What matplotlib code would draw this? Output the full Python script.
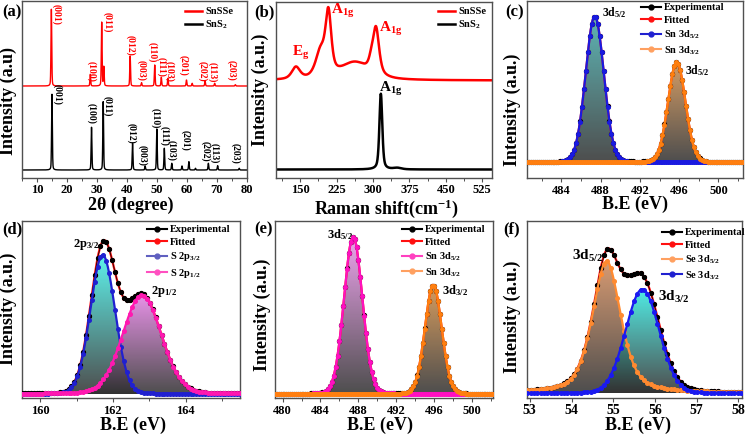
import numpy as np
import matplotlib
matplotlib.use('Agg')
import matplotlib.pyplot as plt
from matplotlib.colors import LinearSegmentedColormap
from matplotlib.ticker import MultipleLocator
from matplotlib.lines import Line2D

plt.rcParams['font.family'] = 'Liberation Serif'
plt.rcParams['font.weight'] = 'bold'
plt.rcParams['mathtext.fontset'] = 'custom'
plt.rcParams['mathtext.rm'] = 'Liberation Serif:bold'
plt.rcParams['mathtext.it'] = 'Liberation Serif:bold'
plt.rcParams['mathtext.bf'] = 'Liberation Serif:bold'

# ---------------- data ----------------
# (a) XRD peaks: position (deg), height (a.u.)
sns2_xrd_pos = [15.0, 28.2, 32.1, 41.9, 46.1, 50.0, 52.5, 55.0, 58.4, 60.7, 62.9, 67.2, 70.3, 77.5]
sns2_xrd_h = [75.7, 42.7, 68.3, 26.7, 4.0, 41.0, 21.7, 6.7, 4.0, 8.3, 1.7, 6.7, 4.3, 1.7]
snsse_xrd_pos = [14.8, 27.8, 31.6, 32.3, 41.1, 44.9, 49.3, 51.5, 53.7, 59.9, 61.8, 66.1, 69.3, 76.2]
snsse_xrd_h = [76.7, 11.7, 63.7, 19.0, 30.0, 3.3, 21.0, 8.7, 7.7, 6.0, 2.7, 5.0, 2.7, 1.3]
sns2_xrd_base = 8
snsse_xrd_base = 92
hkl = ['(001)', '(100)', '(011)', '(012)', '(003)', '(110)', '(111)', '(103)',
       '(201)', '(202)', '(113)', '(203)']
snsse_hkl_xy = [(16.6, 163.7), (28.05, 106.7), (33.65, 156), (41.07, 132.7), (44.9, 107.3),
                (48.6, 126.3), (51.4, 110.7), (54.2, 106.3), (59.04, 113), (65.2, 106.3),
                (68.6, 106.3), (75.0, 108)]
sns2_hkl_xy = [(16.8, 84), (28.05, 64.7), (33.65, 72), (41.5, 44.7), (45.2, 23), (49.5, 59.7),
               (52.5, 42), (54.8, 28), (59.6, 37.3), (66.3, 26.3), (69.35, 24.7), (76.4, 24.7)]

# (b) Raman bands: position (cm-1), height, fwhm
snsse_raman_pos = [141, 192, 208, 262, 296, 306]
snsse_raman_h = [12, 26, 60, 17, 8, 46]
snsse_raman_w = [20, 24, 14, 70, 12, 15]
snsse_raman_base = 97
sns2_raman_pos = [316, 350]
sns2_raman_h = [75.7, 1.5]
sns2_raman_w = [7, 20]
sns2_raman_base = 8

# (c) Sn 3d of SnS2
c_pos = [487.4, 495.75]
c_h = [146, 100]
c_w = [2.2, 2.1]
c_eta = [0.05, 0.05]
c_base = 16

# (d) S 2p
d_pos = [161.72, 162.8]
d_h = [139, 99]
d_w = [0.8, 1.25]
d_eta = [0.05, 0.1]
d_base = 4.3

# (e) Sn 3d of SnSSe
e_pos = [487.45, 495.9]
e_h = [157, 109]
e_w = [2.3, 2.1]
e_eta = [0.05, 0.05]
e_base = 4.3

# (f) Se 3d
f_pos = [54.84, 55.70]
f_h = [132, 104]
f_w = [0.8, 0.95]
f_eta = [0.5, 0.05]
f_base = 4.5

W, H = 748, 438


def pv(x, c, h, w, eta):
    g = np.exp(-4 * np.log(2) * ((x - c) / w) ** 2)
    l = 1 / (1 + 4 * ((x - c) / w) ** 2)
    return h * ((1 - eta) * g + eta * l)


def spectrum(x, pos, hts, wid, eta):
    return sum(pv(x, c, h, w, eta) for c, h, w in zip(pos, hts, wid))


fig = plt.figure(figsize=(W / 100, H / 100), dpi=100)


def add_ax(l, t, r, b):
    ax = fig.add_axes([l / W, 1 - b / H, (r - l) / W, (b - t) / H])
    for s in ax.spines.values():
        s.set_color('#505050')
        s.set_linewidth(1.0)
    ax.set_yticks([])
    ax.tick_params(axis='x', which='major', direction='out', length=3, width=0.8,
                   labelsize=9, pad=1.5, color='#505050')
    ax.tick_params(axis='x', which='minor', direction='out', length=2, width=0.7, color='#505050')
    return ax


def fig_text(px, py, s, **kw):
    fig.text(px / W, 1 - py / H, s, **kw)


def grad_fill(ax, x, base, y, top_color, alpha=0.85):
    coll = ax.fill_between(x, base, y, facecolor='none', edgecolor='none')
    path = coll.get_paths()[0]
    cmap = LinearSegmentedColormap.from_list('g', ['#2e2e2e', top_color])
    img = ax.imshow(np.linspace(0, 1, 200).reshape(-1, 1), cmap=cmap, origin='lower',
                    aspect='auto', extent=(x.min(), x.max(), base, y.max()),
                    alpha=alpha, zorder=1, interpolation='bilinear')
    img.set_clip_path(path, ax.transData)


def xps(ax, x, base, pos, hts, wid, eta, line_cols, fill_cols, mk):
    comps = [pv(x, c, h, w, e) for c, h, w, e in zip(pos, hts, wid, eta)]
    total = base + sum(comps)
    for comp, fc in zip(comps, fill_cols):
        grad_fill(ax, x, base, base + comp, fc)
    ax.plot(x, total, color='#ff1010', lw=1.6, marker='o', ms=2.6, markevery=mk, zorder=3)
    ax.plot(x[::mk], total[::mk], 'o-', color='black', ms=2.8, lw=0.5, zorder=4)
    for comp, lc in zip(comps, line_cols):
        ax.plot(x, base + comp, color=lc, lw=1.6, marker='o', ms=2.6, markevery=mk, zorder=5)


def xps_legend(ax, labels, cols, px, py):
    handles = [Line2D([], [], color=c, lw=1.5, marker='o', ms=3.5) for c in cols]
    ax.legend(handles, labels, loc='upper left', bbox_to_anchor=(px / W, 1 - py / H),
              bbox_transform=fig.transFigure, frameon=False, fontsize=7.5,
              handlelength=1.9, handletextpad=0.3, labelspacing=0.32, borderpad=0,
              borderaxespad=0)


# ---------------- (a) XRD ----------------
ax = add_ax(22, 1.5, 246.7, 178)
tt = np.arange(5, 80, 0.02)
ax.plot(tt, sns2_xrd_base + spectrum(tt, sns2_xrd_pos, sns2_xrd_h, [0.3] * 14, 0.3),
        color='black', lw=1.0)
ax.plot(tt, snsse_xrd_base + spectrum(tt, snsse_xrd_pos, snsse_xrd_h, [0.3] * 14, 0.3),
        color='#ff0000', lw=1.0)
for lab, (x, y) in zip(hkl, snsse_hkl_xy):
    ax.text(x, y, lab, color='#ff0000', fontsize=7, rotation=-90, ha='center', va='center')
for lab, (x, y) in zip(hkl, sns2_hkl_xy):
    ax.text(x, y, lab, color='black', fontsize=7, rotation=-90, ha='center', va='center')
ax.set_xlim(5, 80)
ax.set_ylim(0, 176.5)
ax.xaxis.set_major_locator(MultipleLocator(10))
ax.xaxis.set_minor_locator(MultipleLocator(5))
ax.legend([Line2D([], [], color='#ff0000', lw=1.8), Line2D([], [], color='black', lw=1.8)],
          ['SnSSe', 'SnS$_2$'], loc='upper left', bbox_to_anchor=(185 / W, 1 - 7 / H),
          bbox_transform=fig.transFigure, frameon=False, fontsize=7.5, handlelength=1.6,
          handletextpad=0.35, labelspacing=0.2, borderpad=0, borderaxespad=0)
fig_text(131, 205, r'2θ (degree)', fontsize=13, ha='center', va='center')
fig_text(8, 101, 'Intensity (a.u)', fontsize=13, rotation=90, ha='center', va='center')
fig_text(2, 12, '(a)', fontsize=12, ha='left', va='center')

# ---------------- (b) Raman ----------------
ax = add_ax(276, 1.5, 492, 177.5)
rs = np.arange(100, 545.5, 0.5)
ax.plot(rs, sns2_raman_base + spectrum(rs, sns2_raman_pos, sns2_raman_h, sns2_raman_w, 0.5),
        color='black', lw=1.8)
ax.plot(rs, snsse_raman_base + spectrum(rs, snsse_raman_pos, snsse_raman_h, snsse_raman_w, 0.6),
        color='#ff0000', lw=1.8)
ax.text(132, 124, 'E$_{g}$', color='#ff0000', fontsize=11, ha='left', va='center')
ax.text(214, 166, r'A$_{\mathrm{1g}}$', color='#ff0000', fontsize=11, ha='left', va='center')
ax.text(313, 148, r'A$_{\mathrm{1g}}$', color='#ff0000', fontsize=11, ha='left', va='center')
ax.text(313, 88, r'A$_{\mathrm{1g}}$', color='black', fontsize=11, ha='left', va='center')
ax.set_xlim(100, 545)
ax.set_ylim(0, 176)
ax.set_xticks([150, 225, 300, 375, 450, 525])
ax.xaxis.set_minor_locator(MultipleLocator(37.5))
ax.legend([Line2D([], [], color='#ff0000', lw=1.8), Line2D([], [], color='black', lw=1.8)],
          ['SnSSe', 'SnS$_2$'], loc='upper left', bbox_to_anchor=(438 / W, 1 - 7 / H),
          bbox_transform=fig.transFigure, frameon=False, fontsize=7.5, handlelength=1.6,
          handletextpad=0.35, labelspacing=0.2, borderpad=0, borderaxespad=0)
fig_text(386, 209, r'Raman shift(cm$^{-1}$)', fontsize=13, ha='center', va='center')
fig_text(260, 90, 'Intensity (a.u.)', fontsize=13, rotation=90, ha='center', va='center')
fig_text(254, 12, '(b)', fontsize=12, ha='left', va='center')

# ---------------- (c) Sn 3d SnS2 ----------------
ax = add_ax(527, 1.5, 743, 178.3)
xe = np.arange(480.5, 502.55, 0.05)
xps(ax, xe, c_base, c_pos, c_h, c_w, c_eta, ['#1a1ae0', '#ff7f10'], ['#40a8a8', '#cc8a48'], 4)
ax.text(488.15, 166, r'3d$_{5/2}$', fontsize=8.5, ha='left', va='center')
ax.text(496.56, 108, r'3d$_{5/2}$', fontsize=8.5, ha='left', va='center')
ax.set_xlim(480.5, 502.5)
ax.set_ylim(0, 176.8)
ax.xaxis.set_major_locator(MultipleLocator(4))
ax.xaxis.set_minor_locator(MultipleLocator(2))
xps_legend(ax, ['Experimental', 'Fitted', r'Sn 3d$_{5/2}$', r'Sn 3d$_{3/2}$'],
           ['black', '#ff1010', '#2020d0', '#ffa060'], 641, 3)
fig_text(635, 204, 'B.E (eV)', fontsize=13, ha='center', va='center')
fig_text(512, 110, 'Intensity (a.u.)', fontsize=13, rotation=90, ha='center', va='center')
fig_text(505, 12, '(c)', fontsize=12, ha='left', va='center')

# ---------------- (d) S 2p ----------------
ax = add_ax(22, 221, 240, 398.3)
xs = np.arange(159.5, 165.51, 0.02)
xps(ax, xs, d_base, d_pos, d_h, d_w, d_eta, ['#2020d0', '#ff18b0'], ['#40f0e8', '#e47ee4'], 4)
ax.text(160.89, 154, r'2p$_{3/2}$', fontsize=9, ha='left', va='center')
ax.text(163.05, 107, r'2p$_{1/2}$', fontsize=9, ha='left', va='center')
ax.set_xlim(159.5, 165.5)
ax.set_ylim(0, 177.3)
ax.xaxis.set_major_locator(MultipleLocator(2))
ax.xaxis.set_minor_locator(MultipleLocator(1))
xps_legend(ax, ['Experimental', 'Fitted', r'S 2p$_{3/2}$', r'S 2p$_{1/2}$'],
           ['black', '#ff1010', '#6060c0', '#ff50c0'], 147, 225)
fig_text(133, 425, 'B.E (eV)', fontsize=13, ha='center', va='center')
fig_text(8, 309, 'Intensity (a.u.)', fontsize=13, rotation=90, ha='center', va='center')
fig_text(2, 229, '(d)', fontsize=12, ha='left', va='center')

# ---------------- (e) Sn 3d SnSSe ----------------
ax = add_ax(275, 221, 493, 398.3)
xe2 = np.arange(479.2, 502.25, 0.05)
xps(ax, xe2, e_base, e_pos, e_h, e_w, e_eta, ['#ff10c0', '#ff7f10'], ['#ea92ea', '#d08a40'], 4)
ax.text(484.7, 164, r'3d$_{5/2}$', fontsize=9, ha='left', va='center')
ax.text(496.8, 108, r'3d$_{3/2}$', fontsize=9, ha='left', va='center')
ax.set_xlim(479.2, 502.2)
ax.set_ylim(0, 177.3)
ax.xaxis.set_major_locator(MultipleLocator(4))
ax.xaxis.set_minor_locator(MultipleLocator(2))
xps_legend(ax, ['Experimental', 'Fitted', r'Sn 3d$_{5/2}$', r'Sn 3d$_{3/2}$'],
           ['black', '#ff1010', '#ff40c0', '#ffa060'], 402, 225)
fig_text(380, 425, 'B.E (eV)', fontsize=13, ha='center', va='center')
fig_text(262, 315, 'Intensity (a.u.)', fontsize=13, rotation=90, ha='center', va='center')
fig_text(254, 229, '(e)', fontsize=12, ha='left', va='center')

# ---------------- (f) Se 3d ----------------
ax = add_ax(527.3, 221, 741.7, 397.7)
xf = np.arange(52.94, 58.09, 0.02)
xps(ax, xf, f_base, f_pos, f_h, f_w, f_eta, ['#ff8a30', '#1a1af0'], ['#d08858', '#30e8e0'], 4)
ax.text(54.01, 142, r'3d$_{5/2}$', fontsize=11, ha='left', va='center')
ax.text(56.07, 101, r'3d$_{3/2}$', fontsize=11, ha='left', va='center')
ax.set_xlim(52.94, 58.08)
ax.set_ylim(0, 176.7)
ax.xaxis.set_major_locator(MultipleLocator(1))
ax.tick_params(axis='x', labelsize=10)
xps_legend(ax, ['Experimental', 'Fitted', r'Se 3d$_{5/2}$', r'Se 3d$_{3/2}$'],
           ['black', '#ff1010', '#ffa060', '#2020d0'], 662, 228)
fig_text(638, 425, 'B.E (eV)', fontsize=13, ha='center', va='center')
fig_text(512, 317, 'Intensity (a.u.)', fontsize=13, rotation=90, ha='center', va='center')
fig_text(503, 229, '(f)', fontsize=12, ha='left', va='center')

fig.savefig('out.png', dpi=100)
